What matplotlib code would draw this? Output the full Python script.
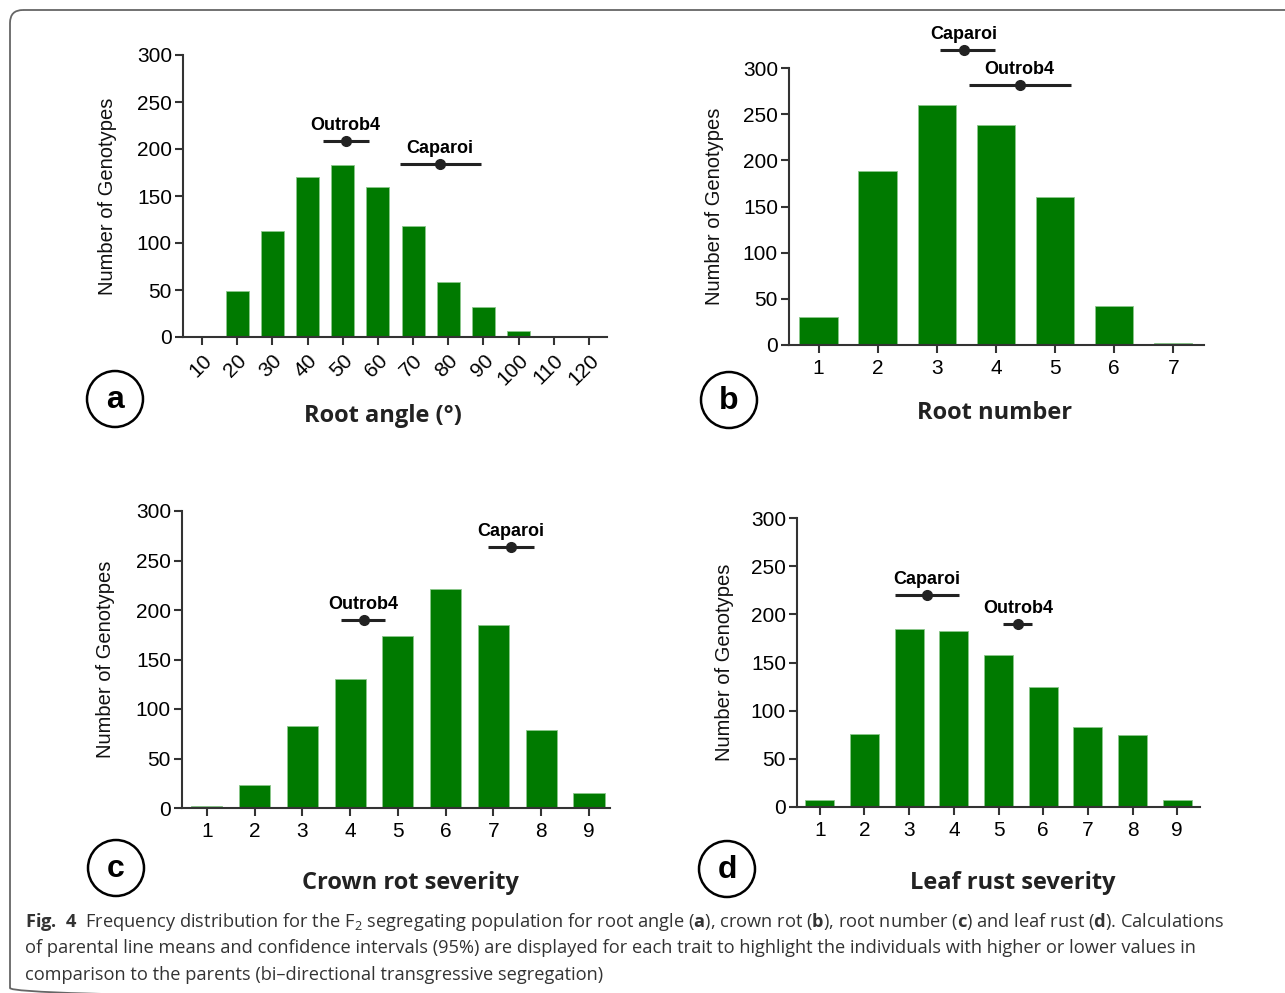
import matplotlib
matplotlib.use('Agg')
import matplotlib.pyplot as plt
from matplotlib.patches import Circle, FancyBboxPatch

# panel a - root angle
a_bins = [10, 20, 30, 40, 50, 60, 70, 80, 90, 100, 110, 120]
a_counts = [1, 49, 113, 170, 183, 160, 118, 59, 32, 6, 1.5, 0.5]
a_parents = [("Outrob4", 50.8, 44.3, 57.4, 208), ("Caparoi", 77.6, 66.3, 89.3, 184)]

# panel b - root number
b_bins = [1, 2, 3, 4, 5, 6, 7]
b_counts = [30, 188, 260, 238, 160, 42, 2]
b_parents = [("Caparoi", 3.46, 3.05, 3.98, 319), ("Outrob4", 4.40, 3.55, 5.27, 282)]

# panel c - crown rot severity
c_bins = [1, 2, 3, 4, 5, 6, 7, 8, 9]
c_counts = [2, 23, 83, 130, 174, 221, 185, 79, 15]
c_parents = [("Outrob4", 4.28, 3.81, 4.74, 190), ("Caparoi", 7.36, 6.89, 7.85, 264)]

# panel d - leaf rust severity
d_bins = [1, 2, 3, 4, 5, 6, 7, 8, 9]
d_counts = [7, 76, 185, 183, 158, 125, 83, 75, 7]
d_parents = [("Caparoi", 3.40, 2.69, 4.12, 220), ("Outrob4", 5.44, 5.10, 5.76, 190)]

W, H = 1285, 993
GREEN = '#007a00'
DARK = '#222222'

cap_font = 'Open Sans'
plt.rcParams['font.family'] = ['Liberation Sans', 'DejaVu Sans']
plt.rcParams['mathtext.fontset'] = 'custom'
plt.rcParams['mathtext.rm'] = cap_font
plt.rcParams['mathtext.bf'] = cap_font + ':bold'
plt.rcParams['mathtext.default'] = 'regular'

fig = plt.figure(figsize=(W / 100, H / 100), dpi=100)

# overlay in pixel coordinates for frame, circles, labels, caption
ov = fig.add_axes([0, 0, 1, 1])
ov.set_xlim(0, W)
ov.set_ylim(H, 0)
ov.axis('off')


def px_axes(left, top, right, bottom):
    return fig.add_axes([left / W, 1 - bottom / H, (right - left) / W, (bottom - top) / H])


def panel(ax, bins, counts, width, xlim, parents, rotate=False):
    ax.bar(bins, counts, width=width, color=GREEN, edgecolor='#8cc78c', linewidth=0.6)
    ax.set_xlim(*xlim)
    ax.set_ylim(0, 300)
    ax.set_yticks([0, 50, 100, 150, 200, 250, 300])
    ax.set_xticks(bins)
    for s in ['top', 'right']:
        ax.spines[s].set_visible(False)
    for s in ['left', 'bottom']:
        ax.spines[s].set_linewidth(1.5)
        ax.spines[s].set_color('#333333')
    ax.tick_params(axis='both', direction='out', length=6, width=1.5, color='#333333',
                   labelsize=15, labelcolor='black')
    ax.tick_params(axis='y', pad=2)
    ax.tick_params(axis='x', pad=4)
    if rotate:
        plt.setp(ax.get_xticklabels(), rotation=45, ha='right', rotation_mode='anchor')
    ax.set_ylabel('Number of Genotypes', fontsize=14.5, color='#111111')
    ax.yaxis.set_label_coords(-0.156, 0.5)
    for name, m, lo, hi, y in parents:
        ax.plot([lo, hi], [y, y], color=DARK, lw=2.2, clip_on=False, solid_capstyle='butt')
        ax.plot([m], [y], 'o', color=DARK, ms=7, clip_on=False)
        ax.annotate(name, (m, y), xytext=(0, 8), textcoords='offset points', ha='center',
                    va='baseline', fontsize=13, fontweight='bold', color='black',
                    annotation_clip=False)


ax_a = px_axes(183, 55, 607, 337)
panel(ax_a, a_bins, a_counts, 6.5, (4.6, 125.1), a_parents, rotate=True)
ax_b = px_axes(789, 68, 1204, 345)
panel(ax_b, b_bins, b_counts, 0.65, (0.5, 7.52), b_parents)
ax_c = px_axes(182, 511, 610, 808)
panel(ax_c, c_bins, c_counts, 0.65, (0.48, 9.44), c_parents)
ax_d = px_axes(797, 518, 1200, 807)
panel(ax_d, d_bins, d_counts, 0.65, (0.49, 9.51), d_parents)

# axis titles
xlabels = [("Root angle (°)", 383, 416), ("Root number", 995, 413),
           ("Crown rot severity", 410, 883), ("Leaf rust severity", 1013, 883)]
for txt, x, y in xlabels:
    ov.text(x, y, txt, ha='center', va='center', fontsize=17, fontweight='bold',
            family=['Open Sans', 'DejaVu Sans'], color=DARK)

# circled panel letters
letters = [("a", 115, 399), ("b", 729, 400), ("c", 116, 868), ("d", 727, 869)]
for lt, x, y in letters:
    ov.add_patch(Circle((x, y), 28, fill=False, ec='black', lw=1.8))
    ov.text(x, y + 1, lt, ha='center', va='center', fontsize=23, fontweight='bold', color='black')

# outer rounded frame
ov.add_patch(FancyBboxPatch((10, 10), 1290, 991, boxstyle='round,pad=0,rounding_size=13',
                            fill=False, ec='#666666', lw=1.3))

# caption
cap_lines = [
    r"$\mathbf{Fig.\ 4}$  Frequency distribution for the F$_2$ segregating population for root angle "
    r"($\mathbf{a}$), crown rot ($\mathbf{b}$), root number ($\mathbf{c}$) and leaf rust ($\mathbf{d}$). Calculations",
    "of parental line means and confidence intervals (95%) are displayed for each trait to highlight "
    "the individuals with higher or lower values in",
    "comparison to the parents (bi\u2013directional transgressive segregation)",
]
cap_y = [927, 953, 980]
size = 14
texts = [ov.text(25, y, t, ha='left', va='baseline', fontsize=size, family=cap_font, color='#333333')
         for t, y in zip(cap_lines, cap_y)]
r = fig.canvas.get_renderer()
wpx = texts[0].get_window_extent(r).width
new_size = size * 1200 / wpx
for t in texts:
    t.set_fontsize(new_size)

fig.savefig('out.png', dpi=100)
